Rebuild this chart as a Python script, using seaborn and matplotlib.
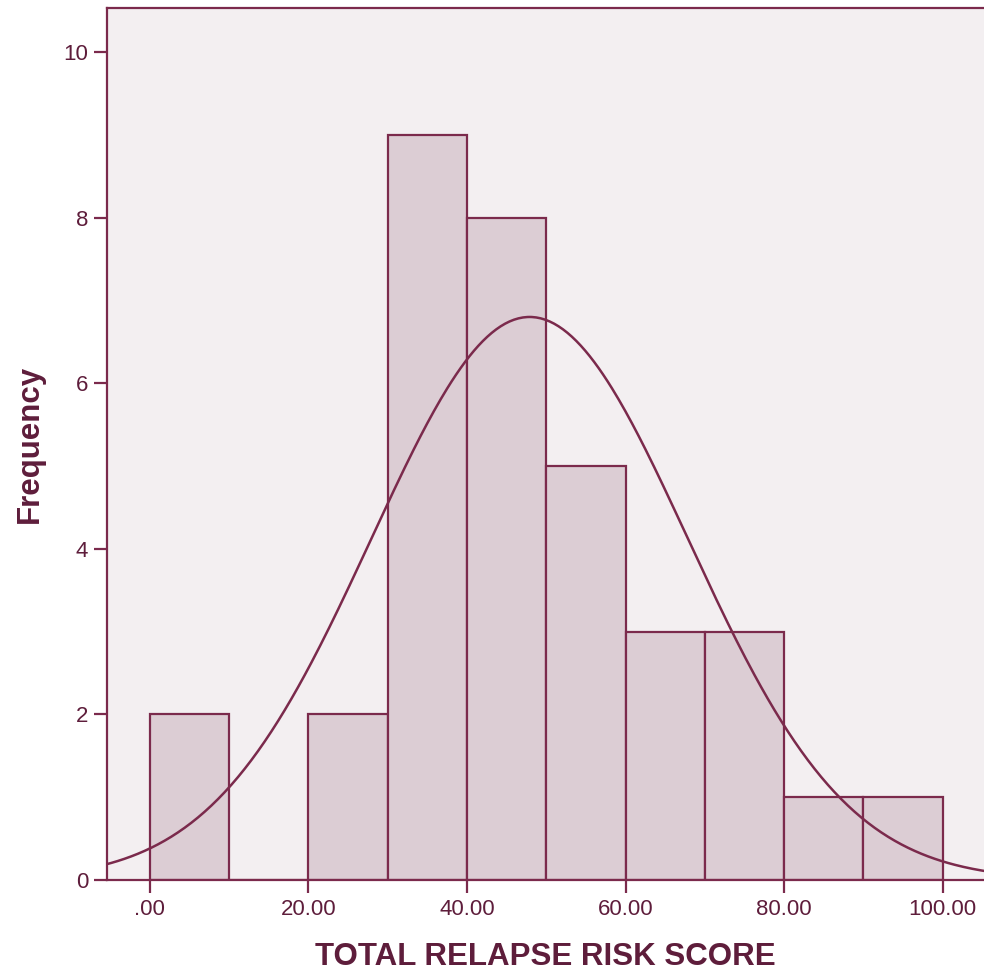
import numpy as np
import pandas as pd
import matplotlib
matplotlib.use("Agg")
import matplotlib.pyplot as plt
import seaborn as sns

# Histogram bins (score ranges) and counts
bin_edges = [0, 10, 20, 30, 40, 50, 60, 70, 80, 90, 100]
counts = [2, 0, 2, 9, 8, 5, 3, 3, 1, 1]
# Fitted normal curve parameters
mean_score = 47.9
sd_score = 19.95
n_cases = sum(counts)
bin_width = 10

x_ticks = [0, 20, 40, 60, 80, 100]
y_ticks = [0, 2, 4, 6, 8, 10]

line_col = "#7b2a4c"
text_col = "#5e1d3b"
bar_col = "#dccdd4"
bg_col = "#f3eff1"

sns.set_style("ticks")
plt.rcParams['font.family'] = ['Liberation Sans', 'DejaVu Sans']

centers = [(a + b) / 2 for a, b in zip(bin_edges[:-1], bin_edges[1:])]
df = pd.DataFrame({"score": centers, "count": counts})

fig = plt.figure(figsize=(9.84, 9.74), dpi=100)
ax = fig.add_axes([0.1087, 0.0965, 0.8913, 0.8953])
ax.set_facecolor(bg_col)

sns.histplot(data=df, x="score", weights="count", bins=bin_edges, ax=ax,
             color=bar_col, alpha=1, edgecolor=line_col, linewidth=1.6)

xs = np.linspace(-6, 106, 400)
curve = n_cases * bin_width / (sd_score * np.sqrt(2 * np.pi)) * np.exp(-(xs - mean_score) ** 2 / (2 * sd_score ** 2))
sns.lineplot(x=xs, y=curve, ax=ax, color=line_col, linewidth=1.8)

ax.set_xlim(-5.4, 105.2)
ax.set_ylim(0, 10.53)
ax.set_xticks(x_ticks)
ax.set_xticklabels([f"{v:.2f}".lstrip("0") if v == 0 else f"{v:.2f}" for v in x_ticks])
ax.set_yticks(y_ticks)
ax.set_yticklabels([str(v) for v in y_ticks])

for side in ["left", "top", "bottom"]:
    ax.spines[side].set_color(line_col)
    ax.spines[side].set_linewidth(1.6)
ax.spines["right"].set_visible(False)

ax.tick_params(axis="both", colors=line_col, labelcolor=text_col, length=9.5, width=1.6, labelsize=16, pad=4)

ax.set_xlabel("TOTAL RELAPSE RISK SCORE", fontsize=22.5, fontweight="bold", color=text_col, labelpad=16)
ax.set_ylabel("Frequency", fontsize=22.5, fontweight="bold", color=text_col, labelpad=13)

fig.savefig("out.png", dpi=100)
